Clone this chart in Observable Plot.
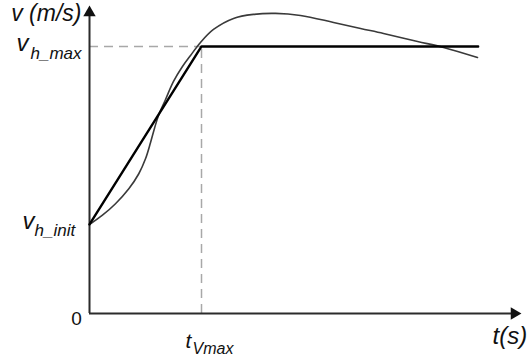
<!DOCTYPE html>
<html>
<head>
<meta charset="utf-8">
<script src="https://cdn.jsdelivr.net/npm/d3@7"></script>
<script src="https://cdn.jsdelivr.net/npm/@observablehq/plot@0.6"></script>
<style>
  html, body { margin: 0; padding: 0; background: #fff; }
  #chart svg { display: block; }
</style>
</head>
<body>
<div id="chart"></div>
<script>
// Response curve (time in units of t_Vmax, speed in units where v_h_init = 1)
const curveT = [0, 0.113, 0.232, 0.351, 0.440, 0.500, 0.545, 0.580, 0.616, 0.679, 0.750, 0.830, 0.902, 0.991, 1.107, 1.286, 1.464, 1.661, 1.884, 2.179, 2.420, 2.625, 2.929, 3.161, 3.464];
const curveV = [1.000, 1.101, 1.233, 1.401, 1.570, 1.738, 1.921, 2.079, 2.225, 2.404, 2.607, 2.775, 2.899, 3.045, 3.191, 3.315, 3.360, 3.371, 3.348, 3.270, 3.202, 3.146, 3.056, 2.989, 2.876];
// Piecewise linear reference profile
const rampT = [0, 1, 3.47];
const rampV = [1, 3, 3];
// Key values
const tVmax = 1;
const vHmax = 3;
const vHinit = 1;
// Axis extents (tip of arrows)
const tAxisEnd = 3.857;
const vAxisEnd = 3.46;

const curve = curveT.map((t, i) => ({t, v: curveV[i]}));
const ramp = rampT.map((t, i) => ({t, v: rampV[i]}));

const font = "Liberation Sans, Arial, sans-serif";
const ink = "#2b2b2b";

const plot = Plot.plot({
  width: 529,
  height: 356,
  marginLeft: 89,
  marginRight: 8,
  marginTop: 5,
  marginBottom: 43,
  x: {domain: [0, tAxisEnd], axis: null},
  y: {domain: [0, vAxisEnd], axis: null},
  style: {fontFamily: font, background: "#fff"},
  marks: [
    // dashed guides
    Plot.ruleY([vHmax], {x1: 0, x2: tVmax, stroke: "#a8a8a8", strokeWidth: 1.5, strokeDasharray: "9,6"}),
    Plot.ruleX([tVmax], {y1: 0, y2: vHmax, stroke: "#a8a8a8", strokeWidth: 1.5, strokeDasharray: "9,6"}),
    // axes
    Plot.ruleX([0], {y1: 0, y2: vAxisEnd - 0.09, stroke: ink, strokeWidth: 2}),
    Plot.ruleY([0], {x1: 0, x2: tAxisEnd - 0.07, stroke: ink, strokeWidth: 2}),
    Plot.dot([{t: 0, v: vAxisEnd}], {x: "t", y: "v", symbol: "triangle", r: 4.6, fill: "#111", stroke: "none", dy: 7.2}),
    Plot.dot([{t: tAxisEnd, v: 0}], {x: "t", y: "v", symbol: "triangle", r: 4.6, fill: "#111", stroke: "none", rotate: 90, dx: -7.2}),
    // curve
    Plot.line(curve, {x: "t", y: "v", curve: "catmull-rom", stroke: "#3a3a3a", strokeWidth: 1.6}),
    // ramp
    Plot.line(ramp, {x: "t", y: "v", stroke: "#000", strokeWidth: 2.4}),
    // labels
    Plot.text(["v (m/s)"], {x: 0, y: vAxisEnd, text: d => d, textAnchor: "end", dx: -8, dy: 8, fontSize: 23, fontStyle: "italic", fill: "#111"}),
    Plot.text(["v"], {x: 0, y: vHmax, text: d => d, textAnchor: "start", dx: -73, dy: -3, fontSize: 24, fontStyle: "italic", fill: "#111"}),
    Plot.text(["h_max"], {x: 0, y: vHmax, text: d => d, textAnchor: "start", dx: -59, dy: 7, fontSize: 17, fontStyle: "italic", fill: "#111"}),
    Plot.text(["v"], {x: 0, y: vHinit, text: d => d, textAnchor: "start", dx: -67, dy: -3, fontSize: 24, fontStyle: "italic", fill: "#111"}),
    Plot.text(["h_init"], {x: 0, y: vHinit, text: d => d, textAnchor: "start", dx: -55, dy: 6, fontSize: 17, fontStyle: "italic", fill: "#111"}),
    Plot.text(["0"], {x: 0, y: 0, text: d => d, textAnchor: "middle", dx: -13, dy: 5, fontSize: 19, fill: "#111"}),
    Plot.text(["t"], {x: tVmax, y: 0, text: d => d, textAnchor: "start", dx: -16, dy: 28, fontSize: 21, fontStyle: "italic", fill: "#111"}),
    Plot.text(["Vmax"], {x: tVmax, y: 0, text: d => d, textAnchor: "start", dx: -9, dy: 35, fontSize: 16, fontStyle: "italic", fill: "#111"}),
    Plot.text(["t(s)"], {x: tAxisEnd, y: 0, text: d => d, textAnchor: "start", dx: -29, dy: 23, fontSize: 24, fontStyle: "italic", fill: "#111"})
  ]
});

document.getElementById("chart").appendChild(plot);
</script>
</body>
</html>
